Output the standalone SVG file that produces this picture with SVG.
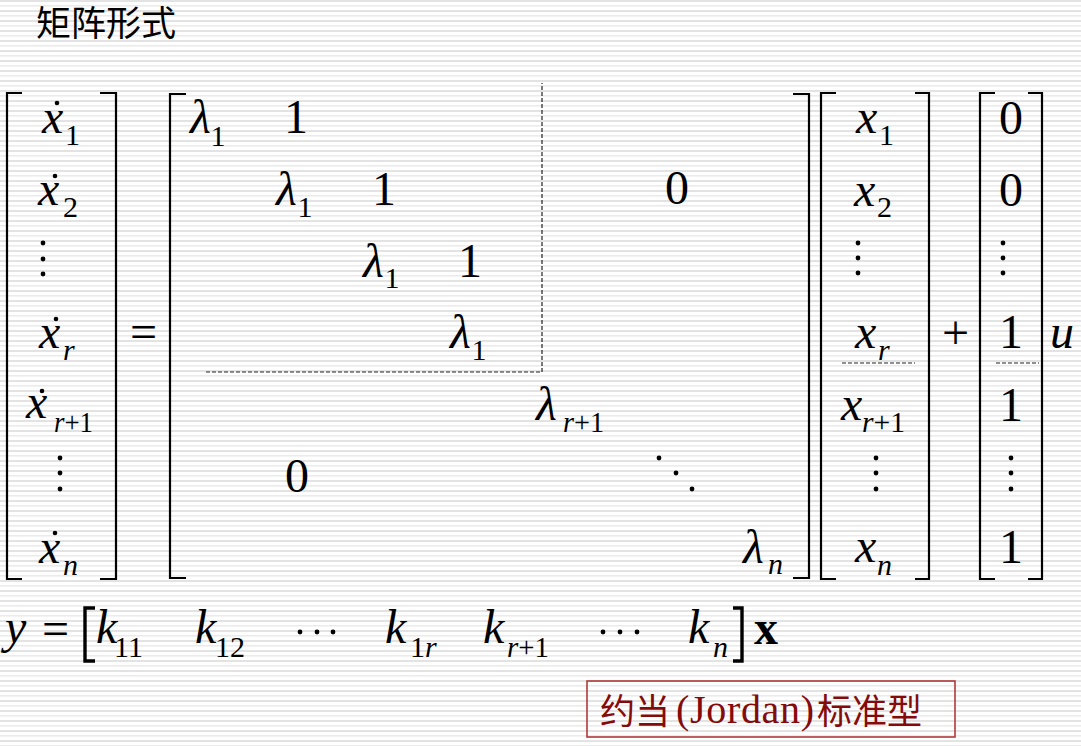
<svg xmlns="http://www.w3.org/2000/svg" width="1081" height="746" viewBox="0 0 1081 746">
  <defs>
    <pattern id="stripes" width="10" height="10" patternUnits="userSpaceOnUse">
      <rect x="0" y="0" width="10" height="2" fill="#e3e3e3"/>
      <rect x="0" y="5" width="10" height="1.6" fill="#ebebeb"/>
    </pattern>
  </defs>
  <style>
    .m { font-family: "Liberation Serif", "Times New Roman", serif; font-size: 48px; fill: #000; }
    .i { font-style: italic; }
    .s { font-size: 30px; }
    .b { font-weight: bold; }
    .br { fill: none; stroke: #000; stroke-width: 2.2; }
    .bb { fill: none; stroke: #000; stroke-width: 3.4; }
    .dash { fill: none; stroke: #222; stroke-width: 1.2; stroke-dasharray: 4 2; }
    .dot { fill: #000; }
    .title { font-family: "Noto Sans CJK SC", "Noto Sans", sans-serif; font-size: 35px; font-weight: 400; fill: #000; }
    .red { font-family: "Noto Sans CJK SC", sans-serif; font-size: 35px; font-weight: 400; fill: #850a0a; }
    .redl { font-family: "Liberation Serif", "Noto Sans CJK SC", serif; font-size: 40px; fill: #850a0a; }
  </style>

  <rect x="0" y="0" width="1081" height="746" fill="#ffffff"/>
  <rect x="0" y="0" width="1081" height="746" fill="url(#stripes)"/>

  <g id="title">
    <text class="title" x="36" y="36">矩阵形式</text>
  </g>

  <g id="brackets">
    <path class="br" d="M22,93 H7 V579 H22"/>
    <path class="br" d="M100,93 H116 V579 H100"/>
    <path class="br" d="M186,94 H170 V578 H186"/>
    <path class="br" d="M793,94 H809 V578 H793"/>
    <path class="br" d="M836,93 H821 V579 H836"/>
    <path class="br" d="M915,93 H929 V579 H915"/>
    <path class="br" d="M995,93 H980 V579 H995"/>
    <path class="br" d="M1028,93 H1042 V579 H1028"/>
    <path class="bb" d="M95,608 H85 V661 H95"/>
    <path class="bb" d="M733,608 H742 V661 H733"/>
  </g>

  <g id="dashes">
    <path class="dash" d="M206,372 H542 V83"/>
    <path class="dash" d="M842,363 H915"/>
    <path class="dash" d="M996,363 H1039"/>
  </g>

  <g id="xdot-vector">
    <text class="m i" x="42" y="133">x</text>
    <text class="m s" x="65" y="145">1</text>
    <circle class="dot" cx="57" cy="103" r="2.3"/>
    <text class="m i" x="38" y="205">x</text>
    <text class="m s" x="63" y="217">2</text>
    <circle class="dot" cx="55" cy="176" r="2.3"/>
    <circle class="dot" cx="43" cy="243" r="2.4"/>
    <circle class="dot" cx="43" cy="259" r="2.4"/>
    <circle class="dot" cx="43" cy="274" r="2.4"/>
    <text class="m i" x="39" y="348">x</text>
    <text class="m s i" x="63" y="360">r</text>
    <circle class="dot" cx="56" cy="319" r="2.3"/>
    <text class="m i" x="26" y="418">x</text>
    <text class="m s" x="54" y="432" textLength="39" lengthAdjust="spacingAndGlyphs"><tspan class="i">r</tspan>+1</text>
    <circle class="dot" cx="42" cy="391" r="2.3"/>
    <circle class="dot" cx="60" cy="458" r="2.4"/>
    <circle class="dot" cx="60" cy="473" r="2.4"/>
    <circle class="dot" cx="60" cy="489" r="2.4"/>
    <text class="m i" x="39" y="563">x</text>
    <text class="m s i" x="63" y="575">n</text>
    <circle class="dot" cx="55" cy="533" r="2.3"/>
  </g>

  <g id="equals">
    <text class="m" x="130" y="348">=</text>
  </g>

  <g id="matrix-A">
    <text class="m i" x="190" y="133">λ</text>
    <text class="m s" x="218" y="146" text-anchor="middle">1</text>
    <text class="m" x="296" y="133" text-anchor="middle">1</text>
    <text class="m i" x="276" y="205">λ</text>
    <text class="m s" x="305" y="217" text-anchor="middle">1</text>
    <text class="m" x="384" y="205" text-anchor="middle">1</text>
    <text class="m i" x="363" y="277">λ</text>
    <text class="m s" x="392" y="288" text-anchor="middle">1</text>
    <text class="m" x="470" y="277" text-anchor="middle">1</text>
    <text class="m i" x="450" y="348">λ</text>
    <text class="m s" x="479" y="360" text-anchor="middle">1</text>
    <text class="m" x="677" y="204" text-anchor="middle">0</text>
    <text class="m i" x="536" y="420">λ</text>
    <text class="m s" x="563" y="432" textLength="41" lengthAdjust="spacingAndGlyphs"><tspan class="i">r</tspan>+1</text>
    <circle class="dot" cx="659" cy="458" r="2.4"/>
    <circle class="dot" cx="676" cy="473" r="2.4"/>
    <circle class="dot" cx="692" cy="489" r="2.4"/>
    <text class="m" x="297" y="492" text-anchor="middle">0</text>
    <text class="m i" x="743" y="563">λ</text>
    <text class="m s i" x="768" y="574">n</text>
  </g>

  <g id="x-vector">
    <text class="m i" x="856" y="133">x</text>
    <text class="m s" x="879" y="145">1</text>
    <text class="m i" x="854" y="206">x</text>
    <text class="m s" x="877" y="217">2</text>
    <circle class="dot" cx="858" cy="243" r="2.4"/>
    <circle class="dot" cx="858" cy="258" r="2.4"/>
    <circle class="dot" cx="858" cy="273" r="2.4"/>
    <text class="m i" x="855" y="348">x</text>
    <text class="m s i" x="878" y="360">r</text>
    <text class="m i" x="841" y="420">x</text>
    <text class="m s" x="862" y="432" textLength="43" lengthAdjust="spacingAndGlyphs"><tspan class="i">r</tspan>+1</text>
    <circle class="dot" cx="876" cy="458" r="2.4"/>
    <circle class="dot" cx="876" cy="473" r="2.4"/>
    <circle class="dot" cx="876" cy="489" r="2.4"/>
    <text class="m i" x="855" y="562">x</text>
    <text class="m s i" x="877" y="575">n</text>
  </g>

  <g id="plus">
    <text class="m" x="942" y="349">+</text>
  </g>

  <g id="b-vector">
    <text class="m" x="1011" y="134" text-anchor="middle">0</text>
    <text class="m" x="1011" y="206" text-anchor="middle">0</text>
    <circle class="dot" cx="1003" cy="243" r="2.4"/>
    <circle class="dot" cx="1003" cy="258" r="2.4"/>
    <circle class="dot" cx="1003" cy="273" r="2.4"/>
    <text class="m" x="1011" y="348" text-anchor="middle">1</text>
    <text class="m" x="1011" y="421" text-anchor="middle">1</text>
    <circle class="dot" cx="1011" cy="458" r="2.4"/>
    <circle class="dot" cx="1011" cy="473" r="2.4"/>
    <circle class="dot" cx="1011" cy="489" r="2.4"/>
    <text class="m" x="1011" y="563" text-anchor="middle">1</text>
  </g>

  <g id="u">
    <text class="m i" x="1050" y="348">u</text>
  </g>

  <g id="output-equation">
    <text class="m i" x="5" y="643">y</text>
    <text class="m" x="42" y="645">=</text>
    <text class="m i" x="96" y="643">k</text>
    <text class="m s" x="114" y="657">11</text>
    <text class="m i" x="195" y="643">k</text>
    <text class="m s" x="215" y="657">12</text>
    <circle class="dot" cx="300" cy="632" r="2.4"/>
    <circle class="dot" cx="317" cy="632" r="2.4"/>
    <circle class="dot" cx="333" cy="632" r="2.4"/>
    <text class="m i" x="385" y="643">k</text>
    <text class="m s" x="410" y="657">1<tspan class="i">r</tspan></text>
    <text class="m i" x="483" y="643">k</text>
    <text class="m s" x="507" y="657" textLength="42" lengthAdjust="spacingAndGlyphs"><tspan class="i">r</tspan>+1</text>
    <circle class="dot" cx="603" cy="632" r="2.4"/>
    <circle class="dot" cx="620" cy="632" r="2.4"/>
    <circle class="dot" cx="637" cy="632" r="2.4"/>
    <text class="m i" x="688" y="643">k</text>
    <text class="m s i" x="713" y="657">n</text>
    <text class="m b" x="754" y="644">x</text>
  </g>

  <g id="jordan-label">
    <rect x="587" y="681" width="368" height="56" fill="none" stroke="#b03a3a" stroke-width="1.6"/>
    <text class="red" x="600" y="724">约当</text>
    <text class="redl" x="676" y="723" textLength="138" lengthAdjust="spacing">(Jordan)</text>
    <text class="red" x="817" y="724">标准型</text>
  </g>
</svg>
